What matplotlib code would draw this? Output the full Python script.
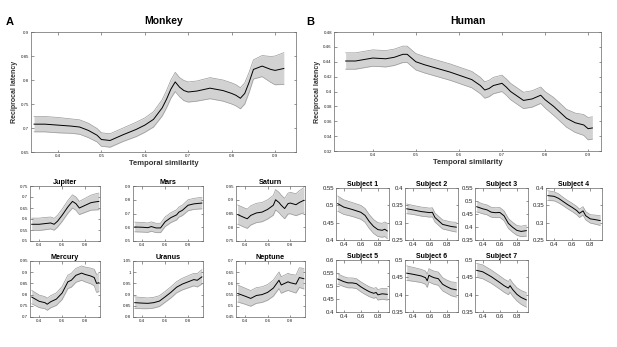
import numpy as np
import matplotlib
matplotlib.use("Agg")
import matplotlib.pyplot as plt

plt.rcParams['font.family'] = ['Liberation Sans', 'DejaVu Sans']

# ---- Monkey, pooled ----
mk_x = [0.345, 0.37, 0.40, 0.43, 0.45, 0.47, 0.49, 0.50, 0.52, 0.55, 0.58, 0.60, 0.62, 0.64,
        0.65, 0.66, 0.67, 0.68, 0.69, 0.70, 0.72, 0.75, 0.78, 0.80, 0.81, 0.82, 0.83, 0.84,
        0.85, 0.87, 0.89, 0.90, 0.92]
mk_y = [0.708, 0.708, 0.706, 0.704, 0.702, 0.695, 0.685, 0.676, 0.674, 0.686, 0.697, 0.706,
        0.718, 0.742, 0.760, 0.781, 0.796, 0.785, 0.778, 0.775, 0.777, 0.783, 0.778, 0.772,
        0.768, 0.762, 0.772, 0.795, 0.822, 0.829, 0.822, 0.820, 0.824]
mk_err = [0.016, 0.016, 0.016, 0.015, 0.015, 0.015, 0.014, 0.014, 0.014, 0.014, 0.015, 0.015,
          0.016, 0.017, 0.018, 0.019, 0.020, 0.020, 0.021, 0.021, 0.021, 0.022, 0.022, 0.022,
          0.022, 0.022, 0.022, 0.021, 0.020, 0.022, 0.027, 0.030, 0.033]

# ---- Human, pooled ----
hm_x = [0.337, 0.36, 0.40, 0.43, 0.45, 0.47, 0.48, 0.50, 0.52, 0.55, 0.58, 0.60, 0.63, 0.65,
        0.66, 0.67, 0.68, 0.70, 0.71, 0.72, 0.74, 0.75, 0.77, 0.79, 0.80, 0.82, 0.85, 0.87,
        0.89, 0.90, 0.91]
hm_y = [0.441, 0.441, 0.445, 0.444, 0.446, 0.450, 0.450, 0.440, 0.436, 0.431, 0.426, 0.422,
        0.416, 0.408, 0.402, 0.404, 0.408, 0.411, 0.406, 0.400, 0.392, 0.388, 0.390, 0.395,
        0.389, 0.380, 0.364, 0.358, 0.355, 0.350, 0.351]
hm_err = [0.011, 0.011, 0.011, 0.011, 0.011, 0.011, 0.011, 0.011, 0.011, 0.011, 0.011, 0.011,
          0.011, 0.011, 0.011, 0.011, 0.011, 0.011, 0.011, 0.011, 0.011, 0.011, 0.011, 0.011,
          0.011, 0.012, 0.012, 0.013, 0.014, 0.015, 0.015]

# ---- Individual monkeys ----
jupiter_x = [0.335, 0.40, 0.45, 0.50, 0.53, 0.56, 0.60, 0.65, 0.69, 0.72, 0.75, 0.80, 0.85, 0.88, 0.92]
jupiter_y = [0.576, 0.576, 0.579, 0.582, 0.576, 0.590, 0.617, 0.655, 0.680, 0.670, 0.650, 0.662, 0.674, 0.677, 0.680]
jupiter_err = [0.028, 0.028, 0.028, 0.027, 0.027, 0.027, 0.028, 0.029, 0.030, 0.030, 0.030, 0.032, 0.034, 0.036, 0.038]

mars_x = [0.335, 0.40, 0.45, 0.48, 0.52, 0.56, 0.60, 0.65, 0.70, 0.72, 0.75, 0.80, 0.85, 0.92]
mars_y = [0.602, 0.600, 0.597, 0.605, 0.595, 0.595, 0.640, 0.670, 0.690, 0.710, 0.723, 0.760, 0.770, 0.776]
mars_err = [0.035, 0.035, 0.034, 0.034, 0.034, 0.034, 0.035, 0.036, 0.037, 0.037, 0.038, 0.040, 0.040, 0.042]

saturn_x = [0.335, 0.40, 0.42, 0.45, 0.50, 0.55, 0.60, 0.65, 0.67, 0.70, 0.72, 0.75, 0.78, 0.80, 0.85, 0.88, 0.92]
saturn_y = [0.846, 0.834, 0.831, 0.843, 0.852, 0.855, 0.865, 0.880, 0.900, 0.890, 0.880, 0.868, 0.886, 0.888, 0.882, 0.890, 0.898]
saturn_err = [0.035, 0.035, 0.035, 0.035, 0.035, 0.035, 0.035, 0.036, 0.037, 0.037, 0.037, 0.037, 0.038, 0.039, 0.040, 0.043, 0.046]

mercury_x = [0.335, 0.40, 0.45, 0.47, 0.50, 0.55, 0.60, 0.65, 0.68, 0.72, 0.77, 0.80, 0.85, 0.88, 0.90, 0.92]
mercury_y = [0.789, 0.770, 0.764, 0.757, 0.768, 0.780, 0.807, 0.857, 0.864, 0.886, 0.896, 0.890, 0.883, 0.876, 0.850, 0.853]
mercury_err = [0.030, 0.028, 0.027, 0.027, 0.027, 0.028, 0.029, 0.030, 0.031, 0.031, 0.032, 0.033, 0.035, 0.037, 0.040, 0.040]

uranus_x = [0.335, 0.40, 0.45, 0.50, 0.55, 0.60, 0.65, 0.70, 0.75, 0.80, 0.85, 0.88, 0.92]
uranus_y = [0.864, 0.862, 0.861, 0.864, 0.871, 0.890, 0.910, 0.933, 0.947, 0.957, 0.967, 0.964, 0.979]
uranus_err = [0.026, 0.025, 0.024, 0.024, 0.024, 0.024, 0.025, 0.025, 0.026, 0.027, 0.028, 0.030, 0.032]

neptune_x = [0.335, 0.40, 0.45, 0.50, 0.55, 0.60, 0.65, 0.70, 0.72, 0.75, 0.78, 0.80, 0.85, 0.88, 0.92]
neptune_y = [0.555, 0.543, 0.533, 0.546, 0.550, 0.560, 0.579, 0.614, 0.593, 0.600, 0.607, 0.603, 0.597, 0.626, 0.621]
neptune_err = [0.038, 0.036, 0.035, 0.035, 0.035, 0.035, 0.036, 0.037, 0.037, 0.037, 0.038, 0.038, 0.040, 0.044, 0.046]

# ---- Individual human subjects ----
s1_x = [0.33, 0.40, 0.50, 0.60, 0.65, 0.70, 0.75, 0.80, 0.85, 0.88, 0.91]
s1_y = [0.505, 0.495, 0.488, 0.480, 0.471, 0.453, 0.439, 0.430, 0.428, 0.431, 0.426]
s1_err = [0.022, 0.021, 0.020, 0.020, 0.020, 0.020, 0.020, 0.020, 0.020, 0.021, 0.022]

s2_x = [0.33, 0.40, 0.50, 0.60, 0.63, 0.66, 0.70, 0.75, 0.80, 0.85, 0.91]
s2_y = [0.340, 0.337, 0.332, 0.329, 0.330, 0.315, 0.306, 0.295, 0.292, 0.289, 0.287]
s2_err = [0.014, 0.013, 0.013, 0.013, 0.013, 0.013, 0.013, 0.013, 0.013, 0.013, 0.014]

s3_x = [0.33, 0.40, 0.45, 0.50, 0.55, 0.60, 0.65, 0.70, 0.75, 0.80, 0.85, 0.91]
s3_y = [0.478, 0.470, 0.466, 0.457, 0.455, 0.456, 0.443, 0.414, 0.399, 0.387, 0.383, 0.386]
s3_err = [0.020, 0.019, 0.019, 0.019, 0.019, 0.019, 0.019, 0.019, 0.019, 0.019, 0.020, 0.021]

s4_x = [0.33, 0.40, 0.45, 0.50, 0.55, 0.60, 0.65, 0.68, 0.72, 0.75, 0.80, 0.85, 0.91]
s4_y = [0.378, 0.376, 0.370, 0.361, 0.352, 0.344, 0.335, 0.327, 0.334, 0.320, 0.311, 0.309, 0.306]
s4_err = [0.014, 0.013, 0.013, 0.012, 0.012, 0.012, 0.012, 0.012, 0.012, 0.012, 0.012, 0.013, 0.014]

s5_x = [0.33, 0.40, 0.45, 0.50, 0.55, 0.60, 0.65, 0.70, 0.75, 0.78, 0.80, 0.85, 0.91]
s5_y = [0.527, 0.517, 0.512, 0.512, 0.509, 0.497, 0.487, 0.478, 0.472, 0.475, 0.466, 0.470, 0.468]
s5_err = [0.020, 0.019, 0.019, 0.019, 0.019, 0.019, 0.019, 0.019, 0.019, 0.019, 0.020, 0.021, 0.022]

s6_x = [0.33, 0.40, 0.50, 0.55, 0.57, 0.59, 0.62, 0.65, 0.70, 0.75, 0.80, 0.85, 0.91]
s6_y = [0.462, 0.459, 0.454, 0.449, 0.440, 0.456, 0.452, 0.449, 0.446, 0.430, 0.423, 0.417, 0.414]
s6_err = [0.021, 0.020, 0.019, 0.019, 0.019, 0.019, 0.019, 0.019, 0.019, 0.019, 0.019, 0.020, 0.021]

s7_x = [0.33, 0.40, 0.50, 0.60, 0.65, 0.70, 0.72, 0.75, 0.80, 0.85, 0.91]
s7_y = [0.470, 0.466, 0.452, 0.435, 0.426, 0.419, 0.426, 0.415, 0.401, 0.392, 0.385]
s7_err = [0.020, 0.020, 0.019, 0.019, 0.019, 0.019, 0.019, 0.019, 0.019, 0.020, 0.021]

monkey_names = ["Jupiter", "Mars", "Saturn", "Mercury", "Uranus", "Neptune"]
monkey_data = [(jupiter_x, jupiter_y, jupiter_err), (mars_x, mars_y, mars_err),
               (saturn_x, saturn_y, saturn_err), (mercury_x, mercury_y, mercury_err),
               (uranus_x, uranus_y, uranus_err), (neptune_x, neptune_y, neptune_err)]
monkey_yticks = [[0.5, 0.55, 0.6, 0.65, 0.7, 0.75], [0.5, 0.6, 0.7, 0.8, 0.9],
                 [0.75, 0.8, 0.85, 0.9, 0.95], [0.7, 0.75, 0.8, 0.85, 0.9, 0.95],
                 [0.8, 0.85, 0.9, 0.95, 1.0, 1.05], [0.45, 0.5, 0.55, 0.6, 0.65, 0.7]]

subject_names = ["Subject 1", "Subject 2", "Subject 3", "Subject 4", "Subject 5", "Subject 6", "Subject 7"]
subject_data = [(s1_x, s1_y, s1_err), (s2_x, s2_y, s2_err), (s3_x, s3_y, s3_err),
                (s4_x, s4_y, s4_err), (s5_x, s5_y, s5_err), (s6_x, s6_y, s6_err),
                (s7_x, s7_y, s7_err)]
subject_yticks = [[0.4, 0.45, 0.5, 0.55], [0.25, 0.3, 0.35, 0.4], [0.35, 0.4, 0.45, 0.5, 0.55],
                  [0.25, 0.3, 0.35, 0.4], [0.4, 0.45, 0.5, 0.55, 0.6], [0.35, 0.4, 0.45, 0.5],
                  [0.35, 0.4, 0.45, 0.5]]

W, H = 617, 347


def add_axes(fig, left, top, right, bottom):
    # pixel box -> figure fraction
    return fig.add_axes([left / W, 1 - bottom / H, (right - left) / W, (bottom - top) / H])


def style(ax, size):
    for s in ax.spines.values():
        s.set_color("#666666")
        s.set_linewidth(0.5)
    ax.tick_params(direction="in", length=1.8, width=0.4, colors="#444444",
                   labelsize=size, pad=1.5, top=True, right=True)
    ax.tick_params(axis="both", labelcolor="#222222")


def band(ax, x, y, err):
    x = np.array(x)
    y = np.array(y)
    e = np.array(err)
    ax.fill_between(x, y - e, y + e, color="#d2d2d2", lw=0)
    ax.plot(x, y - e, color="#9a9a9a", lw=0.5)
    ax.plot(x, y + e, color="#9a9a9a", lw=0.5)
    ax.plot(x, y, color="black", lw=0.7)


fig = plt.figure(figsize=(W / 100, H / 100), dpi=100)

# main panels
ax = add_axes(fig, 31, 32, 296, 152)
band(ax, mk_x, mk_y, mk_err)
ax.set_xlim(0.338, 0.948)
ax.set_ylim(0.65, 0.9)
ax.set_xticks([0.4, 0.5, 0.6, 0.7, 0.8, 0.9])
ax.set_yticks([0.65, 0.7, 0.75, 0.8, 0.85, 0.9])
ax.set_xticklabels(["0.4", "0.5", "0.6", "0.7", "0.8", "0.9"])
ax.set_yticklabels(["0.65", "0.7", "0.75", "0.8", "0.85", "0.9"])
style(ax, 3.2)
ax.set_xlabel("Temporal similarity", fontsize=5.5, fontweight="bold", color="#333333", labelpad=1.5)
ax.set_ylabel("Reciprocal latency", fontsize=5, fontweight="bold", color="#333333", labelpad=2)
ax.set_title("Monkey", fontsize=7.5, fontweight="bold", pad=6)

ax = add_axes(fig, 334, 32, 601, 151)
band(ax, hm_x, hm_y, hm_err)
ax.set_xlim(0.31, 0.93)
ax.set_ylim(0.32, 0.48)
ax.set_xticks([0.4, 0.5, 0.6, 0.7, 0.8, 0.9])
ax.set_yticks([0.32, 0.34, 0.36, 0.38, 0.4, 0.42, 0.44, 0.46, 0.48])
ax.set_xticklabels(["0.4", "0.5", "0.6", "0.7", "0.8", "0.9"])
ax.set_yticklabels(["0.32", "0.34", "0.36", "0.38", "0.4", "0.42", "0.44", "0.46", "0.48"])
style(ax, 3.2)
ax.set_xlabel("Temporal similarity", fontsize=5.5, fontweight="bold", color="#333333", labelpad=1.5)
ax.set_ylabel("Reciprocal latency", fontsize=5, fontweight="bold", color="#333333", labelpad=2)
ax.set_title("Human", fontsize=7.5, fontweight="bold", pad=6)

fig.text(6 / W, 1 - 22 / H, "A", fontsize=8, fontweight="bold", va="center")
fig.text(306 / W, 1 - 22 / H, "B", fontsize=8, fontweight="bold", va="center")

# monkey small panels
mk_cols = [(30, 100), (133, 203), (236, 305)]
mk_rows = [(186, 241), (261, 317)]
for i, name in enumerate(monkey_names):
    l, r = mk_cols[i % 3]
    t, b = mk_rows[i // 3]
    ax = add_axes(fig, l, t, r, b)
    x, y, e = monkey_data[i]
    band(ax, x, y, e)
    ax.set_xlim(0.32, 0.93)
    yt = monkey_yticks[i]
    ax.set_ylim(yt[0], yt[-1])
    ax.set_yticks(yt)
    ax.set_yticklabels([("%g" % v) if v != 1.05 else "1.05" for v in yt])
    ax.set_xticks([0.4, 0.6, 0.8])
    ax.set_xticklabels(["0.4", "0.6", "0.8"])
    style(ax, 3.2)
    ax.set_title(name, fontsize=5.2, fontweight="bold", pad=1.5)

# human small panels
hm_cols = [(336, 389), (405, 458), (475, 528), (546, 602)]
hm_rows = [(188, 240), (260, 312)]
for i, name in enumerate(subject_names):
    l, r = hm_cols[i % 4]
    t, b = hm_rows[i // 4]
    ax = add_axes(fig, l, t, r, b)
    x, y, e = subject_data[i]
    band(ax, x, y, e)
    ax.set_xlim(0.31, 0.93)
    yt = subject_yticks[i]
    ax.set_ylim(yt[0], yt[-1])
    ax.set_yticks(yt)
    ax.set_yticklabels(["%g" % v for v in yt])
    ax.set_xticks([0.4, 0.6, 0.8])
    ax.set_xticklabels(["0.4", "0.6", "0.8"])
    style(ax, 4.3)
    ax.set_title(name, fontsize=5, fontweight="bold", pad=1.5)

fig.savefig("out.png", dpi=100)
